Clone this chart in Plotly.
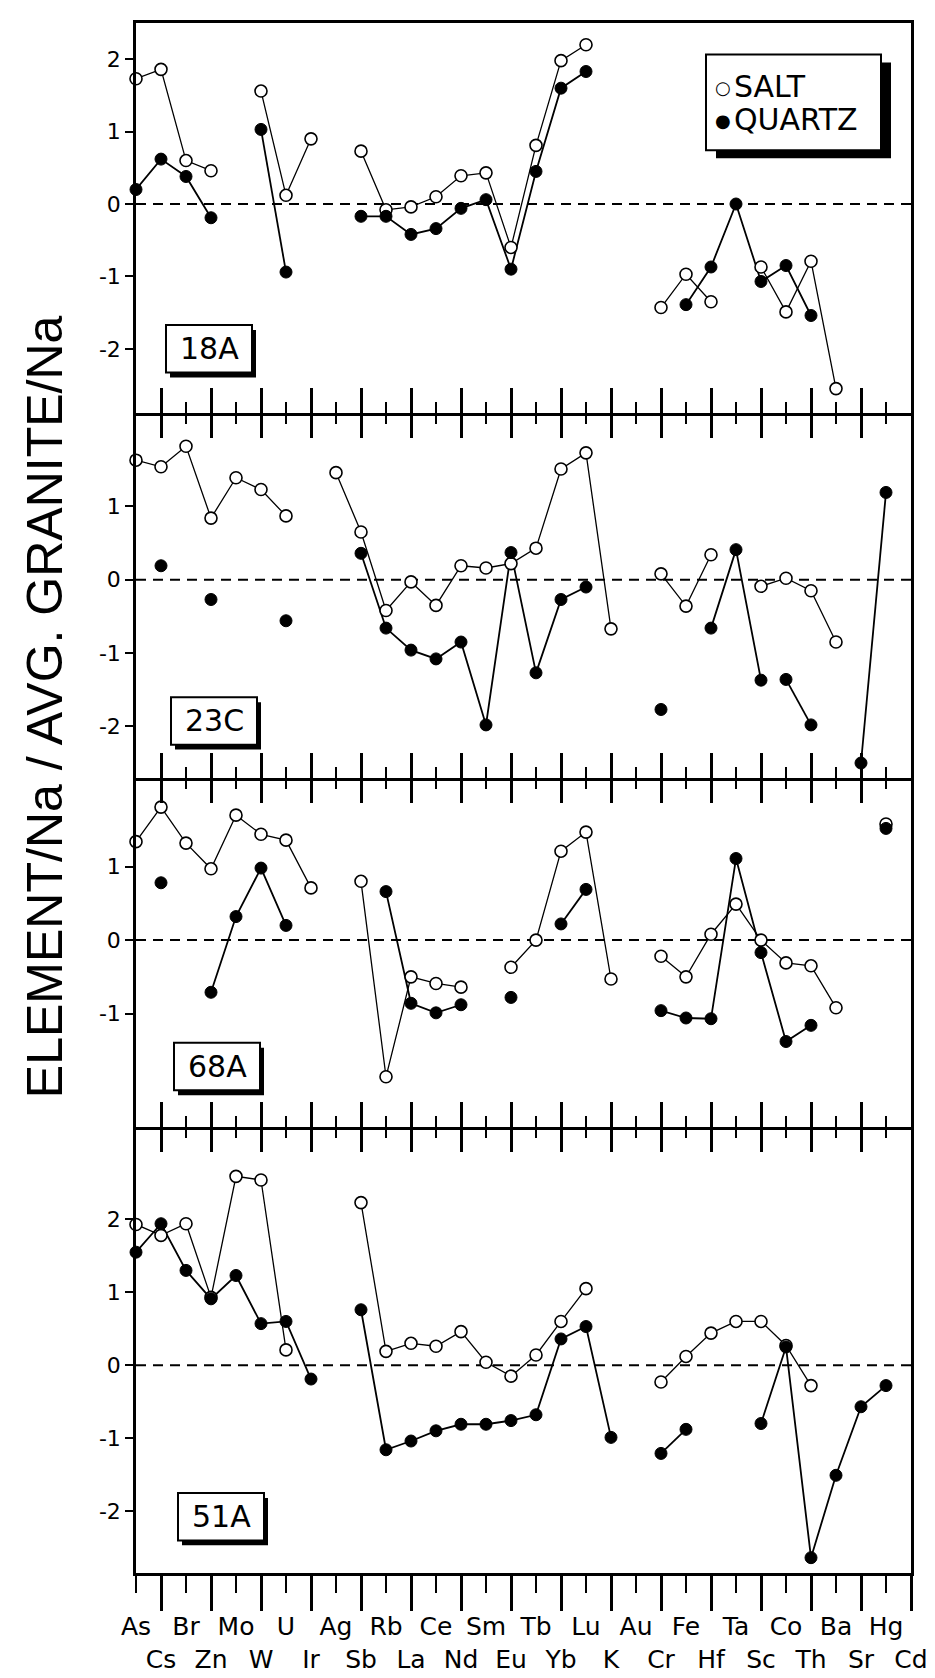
import plotly.graph_objects as go

ELEMENTS = ["As", "Cs", "Br", "Zn", "Mo", "W", "U", "Ir", "Ag", "Sb", "Rb", "La",
            "Ce", "Nd", "Sm", "Eu", "Tb", "Yb", "Lu", "K", "Au", "Cr", "Fe", "Hf",
            "Ta", "Sc", "Co", "Th", "Ba", "Sr", "Hg", "Cd"]
N = None

SALT_18A = [1.73, 1.86, 0.60, 0.46, N, 1.56, 0.12, 0.90, N, 0.73, -0.08, -0.04,
            0.10, 0.39, 0.43, -0.60, 0.81, 1.98, 2.20, N, N, -1.43, -0.97, -1.35,
            N, -0.87, -1.49, -0.79, -2.55, N, N, N]
QUARTZ_18A = [0.20, 0.62, 0.38, -0.19, N, 1.03, -0.94, N, N, -0.17, -0.17, -0.42,
              -0.34, -0.06, 0.06, -0.90, 0.45, 1.60, 1.83, N, N, N, -1.39, -0.87,
              0.00, -1.07, -0.85, -1.54, N, N, N, N]

SALT_23C = [1.63, 1.54, 1.82, 0.84, 1.39, 1.23, 0.87, N, 1.46, 0.65, -0.42, -0.03,
            -0.35, 0.19, 0.16, 0.22, 0.43, 1.51, 1.73, -0.67, N, 0.08, -0.36, 0.34,
            N, -0.09, 0.02, -0.15, -0.85, N, N, N]
QUARTZ_23C = [N, 0.19, N, -0.27, N, N, -0.56, N, N, 0.36, -0.66, -0.96,
              -1.08, -0.85, -1.98, 0.37, -1.27, -0.27, -0.10, N, N, -1.77, N, -0.66,
              0.41, -1.37, -1.36, -1.98, N, -2.50, 1.19, N]
QUARTZ_23C_BREAKS = [25]

SALT_68A = [1.34, 1.81, 1.32, 0.97, 1.70, 1.44, 1.36, 0.71, N, 0.80, -1.86, -0.50,
            -0.59, -0.64, N, -0.37, 0.00, 1.21, 1.47, -0.53, N, -0.22, -0.50, 0.08,
            0.49, 0.00, -0.31, -0.35, -0.92, N, 1.58, N]
QUARTZ_68A = [N, 0.78, N, -0.71, 0.32, 0.98, 0.20, N, N, N, 0.66, -0.86,
              -0.99, -0.88, N, -0.78, N, 0.22, 0.69, N, N, -0.96, -1.06, -1.07,
              1.11, -0.17, -1.38, -1.16, N, N, 1.52, N]

SALT_51A = [1.93, 1.78, 1.94, 0.93, 2.59, 2.54, 0.21, N, N, 2.23, 0.19, 0.30,
            0.26, 0.46, 0.04, -0.15, 0.14, 0.60, 1.05, N, N, -0.23, 0.12, 0.44,
            0.60, 0.60, 0.27, -0.28, N, N, N, N]
QUARTZ_51A = [1.55, 1.94, 1.30, 0.91, 1.23, 0.57, 0.60, -0.19, N, 0.76, -1.16, -1.04,
              -0.90, -0.81, -0.81, -0.76, -0.68, 0.36, 0.53, -0.99, N, -1.21, -0.88, N,
              N, -0.80, 0.25, -2.64, -1.51, -0.57, -0.28, N]

SAMPLES = ["18A", "23C", "68A", "51A"]
SALT = [SALT_18A, SALT_23C, SALT_68A, SALT_51A]
QUARTZ = [QUARTZ_18A, QUARTZ_23C, QUARTZ_68A, QUARTZ_51A]
QUARTZ_BREAKS = [[], QUARTZ_23C_BREAKS, [], []]
Y_TICKS = [[-2, -1, 0, 1, 2], [-2, -1, 0, 1], [-1, 0, 1], [-2, -1, 0, 1, 2]]
Y_RANGES = [[-2.88, 2.50], [-2.70, 2.28], [-2.54, 2.21], [-2.85, 3.27]]
Y_DOMAINS = [[0.7487, 1.0], [0.5131, 0.7487], [0.2879, 0.5131], [0.0, 0.2879]]

W, H = 935, 1678
ML, MR, MT, MB = 128, 32, 13, 95
PW, PH = W - ML - MR, H - MT - MB
FONT = "DejaVu Sans"


def px_x(px):
    return (px - ML) / PW


def px_y(py):
    return (H - MB - py) / PH


def line_xy(vals, breaks=()):
    xs, ys = [], []
    for i, v in enumerate(vals):
        xs.append(i)
        ys.append(v)
        if i in breaks:
            xs.append(i + 0.5)
            ys.append(None)
    return xs, ys


fig = go.Figure()
idx = list(range(len(ELEMENTS)))
odd = [i for i in idx if i % 2 == 1]
even = [i for i in idx if i % 2 == 0]
XR = [0, len(ELEMENTS) - 1]

for k in range(4):
    sfx = "" if k == 0 else str(k + 1)
    xa, ya = "x" + sfx, "y" + sfx
    sx, sy = line_xy(SALT[k])
    qx, qy = line_xy(QUARTZ[k], QUARTZ_BREAKS[k])
    fig.add_trace(go.Scatter(x=sx, y=sy, mode="lines", xaxis=xa, yaxis=ya,
                             line=dict(color="black", width=1.3), hoverinfo="skip",
                             name="SALT", showlegend=False))
    fig.add_trace(go.Scatter(x=qx, y=qy, mode="lines", xaxis=xa, yaxis=ya,
                             line=dict(color="black", width=1.8), hoverinfo="skip",
                             name="QUARTZ", showlegend=False))
    fig.add_trace(go.Scatter(x=idx, y=SALT[k], mode="markers", xaxis=xa, yaxis=ya,
                             cliponaxis=False, name="SALT", showlegend=False,
                             marker=dict(symbol="circle", size=12, color="white",
                                         line=dict(color="black", width=1.6))))
    fig.add_trace(go.Scatter(x=idx, y=QUARTZ[k], mode="markers", xaxis=xa, yaxis=ya,
                             cliponaxis=False, name="QUARTZ", showlegend=False,
                             marker=dict(symbol="circle", size=12, color="black",
                                         line=dict(color="black", width=1))))

# overlay axes (top tick rows of panels 2-4, and top-row element labels)
OVERLAYS = [("x5", "x4", "y4", "top"), ("x7", "x2", "y2", "top"), ("x8", "x3", "y3", "top")]
for ox, _, oy, _ in OVERLAYS + [("x6", "x4", "y4", "bottom")]:
    fig.add_trace(go.Scatter(x=[], y=[], xaxis=ox, yaxis=oy, showlegend=False, hoverinfo="skip"))

layout = dict(width=W, height=H, margin=dict(l=ML, r=MR, t=MT, b=MB),
              plot_bgcolor="white", paper_bgcolor="white", showlegend=False,
              font=dict(family=FONT, color="black"))

for k in range(4):
    sfx = "" if k == 0 else str(k + 1)
    ax = dict(domain=[0, 1], range=XR, anchor="y" + sfx,
              showline=True, linewidth=2.5, linecolor="black", mirror=(k == 0),
              showgrid=False, zeroline=False, showticklabels=False,
              tickmode="array", tickvals=odd, tickwidth=2.5, tickcolor="black",
              fixedrange=True)
    if k < 3:
        ax.update(ticks="inside", ticklen=25,
                  minor=dict(tickmode="array", tickvals=even, ticks="inside",
                             ticklen=11, tickwidth=2, tickcolor="black"))
    else:
        ax.update(ticks="outside", ticklen=35,
                  showticklabels=True, ticktext=[ELEMENTS[i] for i in odd],
                  ticklabelstandoff=27,
                  tickfont=dict(size=25, family=FONT, color="black"),
                  minor=dict(tickmode="array", tickvals=even, ticks="outside",
                             ticklen=17, tickwidth=2, tickcolor="black"))
    layout["xaxis" + sfx] = ax
    layout["yaxis" + sfx] = dict(domain=Y_DOMAINS[k], range=Y_RANGES[k], anchor="x" + sfx,
                                 showline=True, linewidth=2.5, linecolor="black", mirror=True,
                                 showgrid=False, zeroline=False, tickmode="array",
                                 tickvals=Y_TICKS[k], ticktext=[str(v) for v in Y_TICKS[k]],
                                 ticks="outside", ticklen=8, tickwidth=2, tickcolor="black",
                                 tickfont=dict(size=22, family=FONT, color="black"),
                                 fixedrange=True)

for ox, base, oy, side in OVERLAYS:
    layout["xaxis" + ox[1:]] = dict(overlaying=base, anchor=oy, side=side, range=XR,
                                    showline=False, showgrid=False, zeroline=False,
                                    showticklabels=False, tickmode="array", tickvals=odd,
                                    ticks="inside", ticklen=25, tickwidth=2.5, tickcolor="black",
                                    minor=dict(tickmode="array", tickvals=even, ticks="inside",
                                               ticklen=11, tickwidth=2, tickcolor="black"))
layout["xaxis6"] = dict(overlaying="x4", anchor="y4", side="bottom", range=XR,
                        showline=False, showgrid=False, zeroline=False, showticklabels=True,
                        tickmode="array", tickvals=even, ticktext=[ELEMENTS[i] for i in even],
                        ticks="", ticklabelstandoff=36,
                        tickfont=dict(size=25, family=FONT, color="black"))

shapes = []
annotations = []
for k in range(4):
    sfx = "" if k == 0 else str(k + 1)
    shapes.append(dict(type="line", xref="x" + sfx + " domain", yref="y" + sfx,
                       x0=0, x1=1, y0=0, y1=0, layer="below",
                       line=dict(color="black", width=2, dash="10px,7px")))

# sample label boxes (pixel positions)
LABEL_LEFT = [158, 163, 166, 170]
LABEL_CENTERS_Y = [343, 720, 1070, 1526]
for k, name in enumerate(SAMPLES):
    cy = LABEL_CENTERS_Y[k]
    x0 = LABEL_LEFT[k]
    x1 = x0 + 86
    y0, y1 = cy - 24, cy + 24
    shapes.append(dict(type="rect", xref="paper", yref="paper",
                       x0=px_x(x0 + 4), x1=px_x(x1 + 4), y0=px_y(y1 + 5), y1=px_y(y0 + 5),
                       fillcolor="black", line=dict(width=0)))
    shapes.append(dict(type="rect", xref="paper", yref="paper",
                       x0=px_x(x0), x1=px_x(x1), y0=px_y(y1), y1=px_y(y0),
                       fillcolor="white", line=dict(color="black", width=2)))
    annotations.append(dict(text=name, xref="paper", yref="paper",
                            x=px_x((x0 + x1) / 2), y=px_y(cy), xanchor="center",
                            yanchor="middle", showarrow=False,
                            font=dict(size=30, family=FONT, color="black")))

# legend box
LX0, LX1, LY0, LY1 = 698, 873, 45, 142
shapes.append(dict(type="rect", xref="paper", yref="paper",
                   x0=px_x(LX0 + 10), x1=px_x(LX1 + 10), y0=px_y(LY1 + 8), y1=px_y(LY0 + 8),
                   fillcolor="black", line=dict(width=0)))
shapes.append(dict(type="rect", xref="paper", yref="paper",
                   x0=px_x(LX0), x1=px_x(LX1), y0=px_y(LY1), y1=px_y(LY0),
                   fillcolor="white", line=dict(color="black", width=2)))
LEGEND_ITEMS = [("○", "SALT", 77), ("●", "QUARTZ", 111)]
for glyph, word, cy in LEGEND_ITEMS:
    annotations.append(dict(text=glyph, xref="paper", yref="paper", x=px_x(705), y=px_y(cy + 1),
                            xanchor="left", yanchor="middle", showarrow=False,
                            font=dict(size=18, family=FONT, color="black")))
    annotations.append(dict(text=word, xref="paper", yref="paper", x=px_x(724), y=px_y(cy),
                            xanchor="left", yanchor="middle", showarrow=False,
                            font=dict(size=30, family=FONT, color="black")))

annotations.append(dict(text="ELEMENT/Na / AVG. GRANITE/Na", xref="paper", yref="paper",
                        x=px_x(37), y=px_y(706), xanchor="center", yanchor="middle",
                        textangle=-90, showarrow=False,
                        font=dict(size=50, family="Liberation Sans", color="black")))

layout["shapes"] = shapes
layout["annotations"] = annotations
fig.update_layout(**layout)
fig.write_html("out.html")
